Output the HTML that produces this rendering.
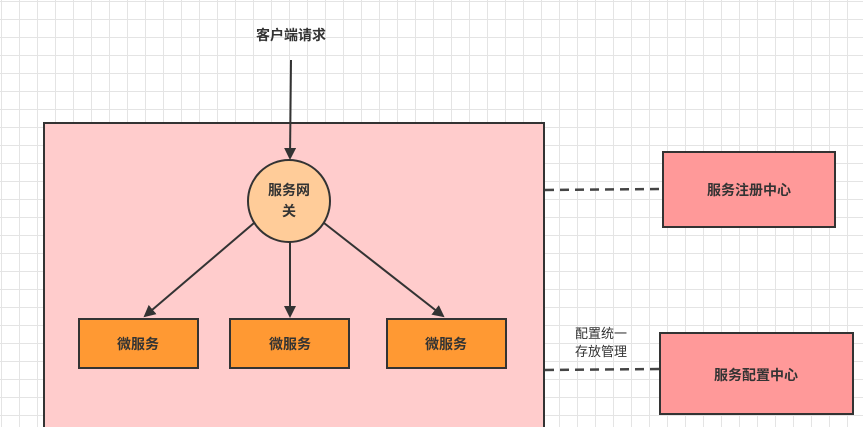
<!DOCTYPE html>
<html><head><style>
body{margin:0;width:863px;height:427px;overflow:hidden;background:#fff;
background-image:linear-gradient(#e4e4e4 1px,transparent 1px),linear-gradient(90deg,#e4e4e4 1px,transparent 1px);
background-size:18px 18px;background-position:1px 1px;font-family:"Liberation Sans","Noto Sans CJK SC",sans-serif;}
</style></head><body>
<svg width="863" height="427" style="position:absolute;left:0;top:0" font-family="Liberation Sans, Noto Sans CJK SC, sans-serif">
<defs><marker id="a" markerWidth="12" markerHeight="12" refX="10" refY="6" orient="auto" markerUnits="userSpaceOnUse"><path d="M0,0 L12,6 L0,12 z" fill="#333"/></marker></defs>
<rect x="44" y="123" width="500" height="320" fill="#ffcccc" stroke="#333" stroke-width="2"/>
<text x="291" y="40" text-anchor="middle" font-size="14" font-weight="bold" fill="#333">客户端请求</text>
<line x1="291" y1="60" x2="290" y2="158" stroke="#333" stroke-width="2" marker-end="url(#a)"/>
<circle cx="289" cy="201" r="41" fill="#ffcc99" stroke="#333" stroke-width="2"/>
<text x="289" y="195" text-anchor="middle" font-size="14" font-weight="bold" fill="#333">服务网</text>
<text x="289" y="216" text-anchor="middle" font-size="14" font-weight="bold" fill="#333">关</text>
<line x1="254" y1="223" x2="145" y2="316" stroke="#333" stroke-width="2" marker-end="url(#a)"/>
<line x1="290" y1="242" x2="290" y2="316" stroke="#333" stroke-width="2" marker-end="url(#a)"/>
<line x1="324" y1="223" x2="443" y2="316" stroke="#333" stroke-width="2" marker-end="url(#a)"/>
<g font-size="14" font-weight="bold" fill="#333" text-anchor="middle">
<rect x="79" y="319" width="119" height="49" fill="#ff9933" stroke="#333" stroke-width="2"/><text x="138" y="349">微服务</text>
<rect x="230" y="319" width="119" height="49" fill="#ff9933" stroke="#333" stroke-width="2"/><text x="290" y="349">微服务</text>
<rect x="387" y="319" width="119" height="49" fill="#ff9933" stroke="#333" stroke-width="2"/><text x="446" y="349">微服务</text>
<rect x="663" y="152" width="172" height="75" fill="#ff9999" stroke="#333" stroke-width="2"/><text x="749" y="195">服务注册中心</text>
<rect x="660" y="333" width="193" height="81" fill="#ff9999" stroke="#333" stroke-width="2"/><text x="756" y="380">服务配置中心</text>
</g>
<line x1="545" y1="190" x2="663" y2="189" stroke="#444" stroke-width="2.5" stroke-dasharray="9,6"/>
<line x1="545" y1="370" x2="660" y2="369" stroke="#444" stroke-width="2.5" stroke-dasharray="9,6"/>
<text x="601" y="338" text-anchor="middle" font-size="13" fill="#333">配置统一</text>
<text x="601" y="356" text-anchor="middle" font-size="13" fill="#333">存放管理</text>
</svg>
</body></html>
